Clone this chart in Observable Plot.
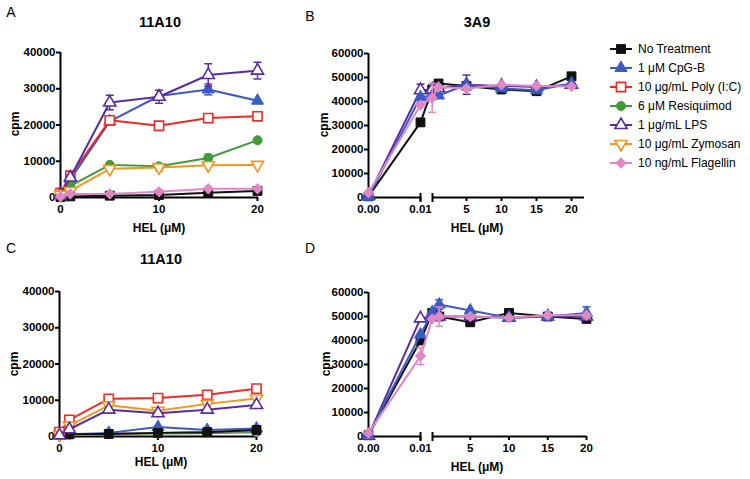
<!DOCTYPE html>
<html><head><meta charset="utf-8">
<script src="https://cdn.jsdelivr.net/npm/d3@7"></script>
<script src="https://cdn.jsdelivr.net/npm/@observablehq/plot@0.6"></script>
<style>
body{margin:0;background:#fff;}
#root{position:relative;width:750px;height:479px;overflow:hidden;background:#fff;font-family:"Liberation Sans",Arial,Helvetica,sans-serif;}
.p{position:absolute;}
.p svg text{font-weight:bold;}
#overlay{position:absolute;left:0;top:0;}
</style></head><body><div id="root"></div>
<script>
// ---------------- DATA ----------------
const seriesNames = ["No Treatment","1 \u03BCM CpG-B","10 \u03BCg/mL Poly (I:C)","6 \u03BCM Resiquimod","1 \u03BCg/mL LPS","10 \u03BCg/mL Zymosan","10 ng/mL Flagellin"];
const seriesColors = ["#111111","#3a5cc2","#ee2b27","#3f9a38","#5a2c9d","#f7941d","#e087c6"];

// Panel A (11A10, top)
const helA = [0, 1, 5, 10, 15, 20];
const A_none  = [100, 300, 500, 700, 1300, 1800];
const A_cpg   = [600, 5000, 21000, 28000, 29800, 26700];
const A_poly  = [1300, 6000, 21300, 19800, 21900, 22400];
const A_resiq = [800, 3200, 9000, 8600, 10900, 15800];
const A_lps   = [900, 5500, 26200, 27800, 33800, 35000];
const A_zym   = [800, 1800, 7900, 8300, 8900, 9000];
const A_flag  = [200, 1000, 1000, 1600, 2400, 2400];
const A_err_lps   = [0, 800, 2000, 1800, 3100, 2300];
const A_err_cpg   = [0, 0, 0, 0, 1500, 0];
const A_err_resiq = [0, 0, 0, 0, 1000, 0];
const A_err_zym   = [0, 0, 0, 1000, 0, 0];

// Panel C (11A10, bottom)
const helC = [0, 1, 5, 10, 15, 20];
const C_none  = [800, 600, 700, 1000, 1200, 1800];
const C_cpg   = [500, 600, 1000, 2600, 1800, 2200];
const C_poly  = [1200, 4600, 10400, 10600, 11500, 13200];
const C_resiq = [300, 600, 700, 800, 900, 1200];
const C_lps   = [300, 2000, 7400, 6400, 7400, 8700];
const C_zym   = [500, 3000, 8600, 7100, 9000, 10500];
const C_flag  = [200, 400, 800, 1000, 1300, 1500];

// Panel B (3A9, top)
const helB = [0, 0.01, 0.1, 1, 5, 10, 15, 20];
const B_none = [500, 31300, 45000, 47500, 46500, 45000, 44300, 50500];
const B_cpg  = [300, 41800, 42500, 42500, 47000, 45500, 44700, 47500];
const B_lps  = [800, 44700, 45000, 45500, 47000, 46500, 46000, 47000];
const B_flag = [2000, 38500, 41500, 46000, 45400, 47000, 46500, 46300];
const B_err_lps  = [0, 2500, 0, 0, 4000, 0, 0, 0];
const B_err_flag = [0, 0, 6000, 0, 0, 0, 0, 0];

// Panel D (3A9, bottom)
const helD = [0, 0.01, 0.1, 1, 5, 10, 15, 20];
const D_none = [500, 40000, 51500, 50000, 47600, 51500, 50000, 49000];
const D_cpg  = [800, 42500, 51800, 55000, 52500, 49500, 50000, 51500];
const D_lps  = [300, 49200, 50000, 50000, 50000, 49500, 50000, 50000];
const D_flag = [1500, 33500, 49000, 50000, 50000, 49500, 50500, 50500];
const D_err_none = [0, 0, 0, 0, 1200, 0, 0, 0];
const D_err_cpg  = [0, 0, 0, 2000, 0, 0, 0, 2500];
const D_err_flag = [0, 3500, 0, 4000, 0, 0, 0, 0];

const ticks11 = [0, 10000, 20000, 30000, 40000];
const ticks3A9 = [0, 10000, 20000, 30000, 40000, 50000, 60000];
const helTicksLin = [0, 10, 20];
const helTicksBrk = [0, 0.01, 5, 10, 15, 20];
const helTickLabelsBrk = ["0.00", "0.01", "5", "10", "15", "20"];

// ---------------- STYLE ----------------
const FONT = "Liberation Sans, Arial, Helvetica, sans-serif";
const styleOf = [
  {symbol: "square",   r: 5,   filled: true,  rotate: 0},
  {symbol: "triangle", r: 4.5, filled: true,  rotate: 0},
  {symbol: "square",   r: 5.2, filled: false, rotate: 0},
  {symbol: "circle",   r: 4.5, filled: true,  rotate: 0},
  {symbol: "triangle", r: 4.5, filled: false, rotate: 0},
  {symbol: "triangle", r: 4.5, filled: false, rotate: 180},
  {symbol: "square",   r: 4,   filled: true,  rotate: 45}
];
const hline = {draw(ctx, size){ const r = Math.sqrt(size/Math.PI); ctx.moveTo(-r,0); ctx.lineTo(r,0);} };
const vline = {draw(ctx, size){ const r = Math.sqrt(size/Math.PI); ctx.moveTo(0,-r); ctx.lineTo(0,r);} };

function seriesMarks(xs, xMap, idx, values, errors) {
  const c = seriesColors[idx], st = styleOf[idx];
  const data = xs.map((x, i) => ({x: xMap(x), y: values[i], e: errors ? errors[i] : 0}));
  const ed = data.filter(d => d.e > 0);
  return [
    Plot.line(data, {x: "x", y: "y", stroke: c, strokeWidth: 2}),
    Plot.ruleX(ed, {x: "x", y1: d => d.y - d.e, y2: d => d.y + d.e, stroke: c, strokeWidth: 1.5}),
    Plot.dot(ed, {x: "x", y: d => d.y + d.e, symbol: hline, r: 4, stroke: c, strokeWidth: 1.5}),
    Plot.dot(ed, {x: "x", y: d => d.y - d.e, symbol: hline, r: 4, stroke: c, strokeWidth: 1.5}),
    Plot.dot(data, {x: "x", y: "y", symbol: st.symbol, r: st.r, rotate: st.rotate,
      fill: st.filled ? c : "white", stroke: c, strokeWidth: st.filled ? 1 : 1.6})
  ];
}

const root = document.getElementById("root");
function place(svg, left, top) {
  const d = document.createElement("div");
  d.className = "p"; d.style.left = left + "px"; d.style.top = top + "px";
  d.appendChild(svg); root.appendChild(d);
}

function linearPanel(top, ml, xs, series) {
  const id = v => v;
  const marks = [
    Plot.ruleX([0], {y1: 0, y2: 40000, stroke: "#000", strokeWidth: 2}),
    Plot.ruleY([0], {x1: 0, x2: 20.1, stroke: "#000", strokeWidth: 2}),
    Plot.axisY({ticks: ticks11, tickSize: 4, tickPadding: 1, tickFormat: d => String(d), fontSize: 11.5, strokeWidth: 2, label: null}),
    Plot.axisX({ticks: helTicksLin, tickSize: 4, tickPadding: 3, tickFormat: d => String(d), fontSize: 11.5, strokeWidth: 2, label: null})
  ];
  series.forEach(([idx, vals, errs]) => marks.push(...seriesMarks(xs, id, idx, vals, errs)));
  const svg = Plot.plot({
    width: 265, height: 240, marginLeft: ml, marginRight: 265 - ml - 197, marginTop: 52, marginBottom: 43,
    x: {domain: [0, 20]}, y: {domain: [0, 40000]},
    style: {fontFamily: FONT, background: "transparent", overflow: "visible", color: "#000"},
    marks
  });
  place(svg, 0, top);
}

function brokenPanel(top, k, axisEnd, xs, series) {
  const brk = v => v <= 0.01 ? v / 0.01 * 52 : 63 + v * k;
  const lab = new Map(helTicksBrk.map((t, i) => [brk(t), helTickLabelsBrk[i]]));
  const marks = [
    Plot.ruleX([0], {y1: 0, y2: 60000, stroke: "#000", strokeWidth: 2}),
    Plot.ruleY([0], {x1: 0, x2: 52, stroke: "#000", strokeWidth: 2}),
    Plot.ruleY([0], {x1: 64, x2: axisEnd, stroke: "#000", strokeWidth: 2}),
    Plot.dot([52, 64], {x: d => d, y: 0, symbol: vline, r: 4.5, stroke: "#000", strokeWidth: 2}),
    Plot.axisY({ticks: ticks3A9, tickSize: 4, tickPadding: 1, tickFormat: d => String(d), fontSize: 11.5, strokeWidth: 2, label: null}),
    Plot.axisX({ticks: helTicksBrk.map(brk), tickSize: 4, tickPadding: 3, tickFormat: d => lab.get(d), fontSize: 11.5, strokeWidth: 2, label: null})
  ];
  series.forEach(([idx, vals, errs]) => marks.push(...seriesMarks(xs, brk, idx, vals, errs)));
  const svg = Plot.plot({
    width: 300, height: 240, marginLeft: 68, marginRight: 12, marginTop: 53, marginBottom: 43,
    x: {domain: [0, 220]}, y: {domain: [0, 60000]},
    style: {fontFamily: FONT, background: "transparent", overflow: "visible", color: "#000"},
    marks
  });
  place(svg, 300, top);
}

linearPanel(0, 60, helA, [
  [0, A_none], [1, A_cpg, A_err_cpg], [2, A_poly], [3, A_resiq, A_err_resiq],
  [4, A_lps, A_err_lps], [5, A_zym, A_err_zym], [6, A_flag]
]);
linearPanel(239, 59, helC, [
  [3, C_resiq], [6, C_flag], [1, C_cpg], [0, C_none], [2, C_poly], [5, C_zym], [4, C_lps]
]);
brokenPanel(0, 7.0, 216, helB, [
  [0, B_none], [4, B_lps, B_err_lps], [1, B_cpg], [6, B_flag, B_err_flag]
]);
brokenPanel(239, 7.75, 218, helD, [
  [0, D_none, D_err_none], [4, D_lps], [1, D_cpg, D_err_cpg], [6, D_flag, D_err_flag]
]);

// ---------------- TEXT + LEGEND OVERLAY ----------------
const ov = d3.select(root).append("svg").attr("id", "overlay").attr("width", 750).attr("height", 479)
  .style("font-family", FONT).style("pointer-events", "none");
const texts = [
  ["A", 11, 12, 14, "normal", 0], ["B", 310, 16, 14, "normal", 0],
  ["C", 11, 248, 14, "normal", 0], ["D", 310, 248, 14, "normal", 0],
  ["11A10", 160, 22, 14.5, "bold", 0], ["3A9", 477, 22, 14.5, "bold", 0],
  ["11A10", 161, 259, 14.5, "bold", 0],
  ["HEL (\u03BCM)", 159, 228, 12, "bold", 0], ["HEL (\u03BCM)", 161, 462, 12, "bold", 0],
  ["HEL (\u03BCM)", 477, 228, 12, "bold", 0], ["HEL (\u03BCM)", 477, 467, 12, "bold", 0],
  ["cpm", 15, 124, 12, "bold", -90], ["cpm", 14, 364, 12, "bold", -90],
  ["cpm", 324, 125, 12, "bold", -90], ["cpm", 326, 364, 12, "bold", -90]
];
texts.forEach(([t, x, y, fs, fw, rot]) => {
  ov.append("text").attr("transform", `translate(${x},${y}) rotate(${rot})`)
    .attr("text-anchor", "middle").attr("dominant-baseline", "central")
    .style("font-size", fs + "px").style("font-weight", fw).attr("fill", "#000").text(t);
});
const symMap = {square: d3.symbolSquare, triangle: d3.symbolTriangle, circle: d3.symbolCircle};
seriesNames.forEach((name, i) => {
  const y = 49 + i * 19, c = seriesColors[i], st = styleOf[i];
  const g = ov.append("g");
  g.append("line").attr("x1", 610).attr("x2", 632).attr("y1", y).attr("y2", y).attr("stroke", c).attr("stroke-width", 2);
  g.append("path").attr("d", d3.symbol(symMap[st.symbol], Math.PI * st.r * st.r)())
    .attr("transform", `translate(621,${y}) rotate(${st.rotate})`)
    .attr("fill", st.filled ? c : "white").attr("stroke", c).attr("stroke-width", st.filled ? 1 : 1.6);
  g.append("text").attr("x", 638).attr("y", y).attr("dominant-baseline", "central")
    .style("font-size", "12px").attr("fill", "#000").text(name);
});
</script></body></html>
